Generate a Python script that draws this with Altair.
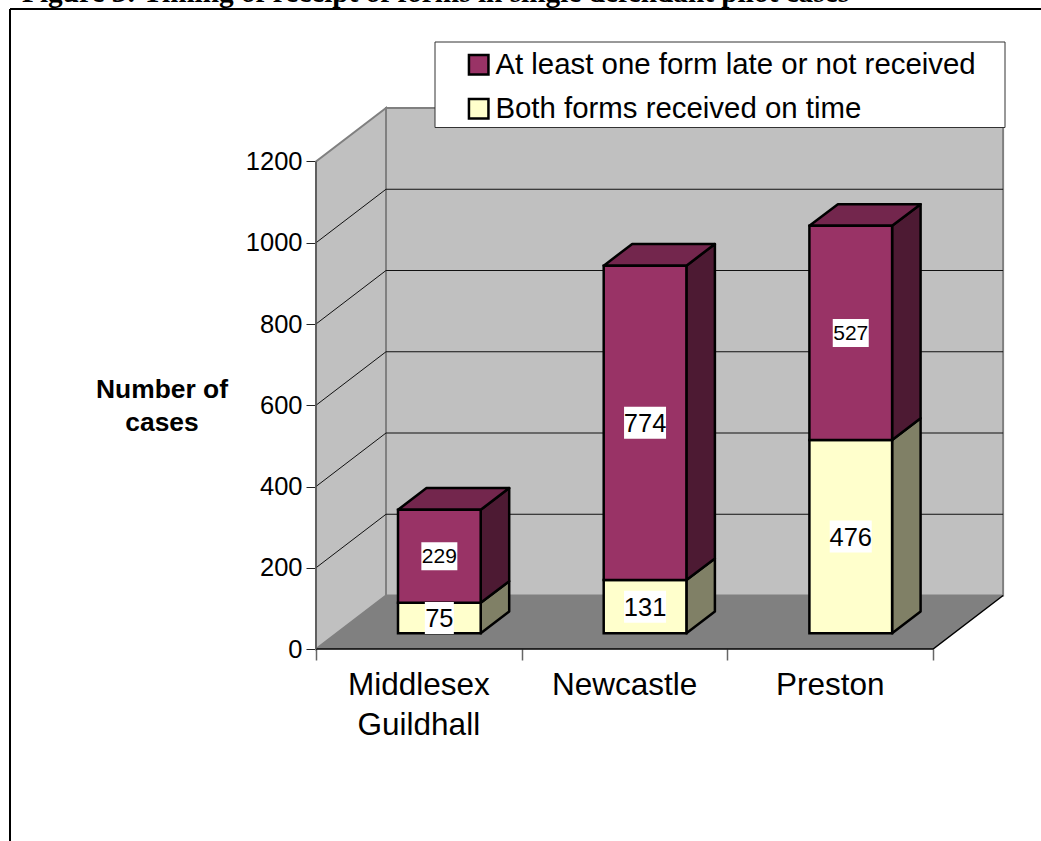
import altair as alt
import pandas as pd

CATEGORIES = ["Middlesex\nGuildhall", "Newcastle", "Preston"]
ON_TIME = [75, 131, 476]
LATE = [229, 774, 527]
Y_TICKS = [0, 200, 400, 600, 800, 1000, 1200]
GRID_VALUES = [200, 400, 600, 800, 1000]
LATE_NAME = "At least one form late or not received"
ON_TIME_NAME = "Both forms received on time"
TITLE = "Figure 3: Timing of receipt of forms in single defendant pilot cases"

W, H = 1041, 841
ORIGIN_X, ORIGIN_Y = 316, 649
PX_PER_CATEGORY = 205.7
PX_PER_CASE = 0.40625
SANS = "Liberation Sans"

# Oblique projection: how depth shifts a point, in category and case units.
WALL_DX, WALL_DY = 70 / PX_PER_CATEGORY, 53.5 / PX_PER_CASE
BAR_DX, BAR_DY = 28.5 / PX_PER_CATEGORY, 21.7 / PX_PER_CASE
INSET_DX, INSET_DY = 20.5 / PX_PER_CATEGORY, 15.7 / PX_PER_CASE
BAR_WIDTH = 0.402

cats = len(CATEGORIES)
top = Y_TICKS[-1]

x_scale = alt.Scale(domain=[-ORIGIN_X / PX_PER_CATEGORY, (W - ORIGIN_X) / PX_PER_CATEGORY],
                    range=[0, W], nice=False, zero=False)
y_scale = alt.Scale(domain=[-(H - ORIGIN_Y) / PX_PER_CASE, ORIGIN_Y / PX_PER_CASE],
                    range=[H, 0], nice=False, zero=False)
x_axis = alt.Axis(values=list(range(cats + 1)), offset=-(H - ORIGIN_Y), domain=False, grid=False,
                  labels=False, tickSize=11, tickColor="#666666", tickWidth=1.5, title=None)
y_axis = alt.Axis(values=Y_TICKS, offset=-ORIGIN_X, domain=False, grid=False, tickSize=10, format="d",
                  tickColor="#222222", tickWidth=1, labelFont=SANS, labelFontSize=25.5,
                  labelColor="black", labelPadding=4, title=None)
X = alt.X("x:Q", scale=x_scale, axis=x_axis)
Y = alt.Y("y:Q", scale=y_scale, axis=y_axis, stack=None)
Y2 = alt.Y2("y2:Q")
X2 = alt.X2("x2:Q")


def band(points, **extra):
    return [dict(x=px, y=lo, y2=hi, **extra) for px, lo, hi in points]


def area_layer(rows, fill, stroke=None, width=0):
    kw = dict(fill=fill, opacity=1)
    if stroke:
        kw.update(stroke=stroke, strokeWidth=width, strokeJoin="miter")
    return alt.Chart(pd.DataFrame(rows)).mark_area(**kw).encode(x=X, y=Y, y2=Y2)


# Chart box: side wall, back wall and floor
side_wall = area_layer(band([(0, 0, top), (WALL_DX, WALL_DY, top + WALL_DY)]), "#c0c0c0", "#808080", 2)
back_wall = area_layer(band([(WALL_DX, WALL_DY, top + WALL_DY), (cats + WALL_DX, WALL_DY, top + WALL_DY)]),
                       "#c0c0c0", "#808080", 2)
floor = area_layer(band([(0, 0, 0), (WALL_DX, 0, WALL_DY), (cats, 0, WALL_DY), (cats + WALL_DX, WALL_DY, WALL_DY)]),
                   "#808080")

grid_rows = []
for v in GRID_VALUES:
    grid_rows += [dict(x=0, y=v, g=v), dict(x=WALL_DX, y=v + WALL_DY, g=v),
                  dict(x=cats + WALL_DX, y=v + WALL_DY, g=v)]
grid = alt.Chart(pd.DataFrame(grid_rows)).mark_line(color="#111111", strokeWidth=1).encode(
    x=X, y=Y, detail="g:N", order=alt.Order("x:Q"))

edge = alt.Chart(pd.DataFrame([dict(x=0, y=0), dict(x=cats, y=0), dict(x=cats + WALL_DX, y=WALL_DY)])).mark_line(
    color="black", strokeWidth=1.5).encode(x=X, y=Y, order=alt.Order("x:Q"))
y_line = alt.Chart(pd.DataFrame([dict(x=0, y=0), dict(x=0, y=top)])).mark_line(
    color="#555555", strokeWidth=1.5).encode(x=X, y=Y)

# Bars: side and top faces as parallelograms, front faces as rectangles
side_rows, top_rows, front_rows, box_rows, label_rows = [], [], [], [], []
for i, (on_time, late) in enumerate(zip(ON_TIME, LATE)):
    x0 = i + 0.5 - BAR_WIDTH / 2 + INSET_DX
    x1 = x0 + BAR_WIDTH
    total = on_time + late
    for name, lo, hi, side_fill in ((ON_TIME_NAME, 0, on_time, "#808066"), (LATE_NAME, on_time, total, "#4d1a33")):
        side_rows += band([(x1, lo + INSET_DY, hi + INSET_DY),
                           (x1 + BAR_DX, lo + INSET_DY + BAR_DY, hi + INSET_DY + BAR_DY)],
                          face=f"{i}{name}", fill=side_fill)
        front_rows.append(dict(x=x0, x2=x1, y=lo + INSET_DY, y2=hi + INSET_DY, series=name))
        value = hi - lo
        small = value in (229, 527)
        half_w = (18 if small else (14.5 if value < 100 else 21)) / PX_PER_CATEGORY
        half_h = (14 if small else 16) / PX_PER_CASE
        mid = (lo + hi) / 2 + INSET_DY
        cx = (x0 + x1) / 2
        box_rows.append(dict(x=cx - half_w, x2=cx + half_w, y=mid - half_h, y2=mid + half_h))
        label_rows.append(dict(x=cx, y=mid, text=str(value), size=21 if small else 25.5))
    t = total + INSET_DY
    top_rows += band([(x0, t, t), (x0 + BAR_DX, t, t + BAR_DY), (x1, t, t + BAR_DY),
                      (x1 + BAR_DX, t + BAR_DY, t + BAR_DY)], face=f"top{i}", fill="#73264d")

side_faces = alt.Chart(pd.DataFrame(side_rows + top_rows)).mark_area(
    stroke="black", strokeWidth=2.5, opacity=1, strokeJoin="round"
).encode(x=X, y=Y, y2=Y2, detail="face:N", fill=alt.Fill("fill:N", scale=None))

front_faces = alt.Chart(pd.DataFrame(front_rows)).mark_rect(stroke="black", strokeWidth=2.5, opacity=1).encode(
    x=X, x2=X2, y=Y, y2=Y2,
    fill=alt.Fill("series:N",
                  scale=alt.Scale(domain=[LATE_NAME, ON_TIME_NAME], range=["#993366", "#ffffcc"]),
                  legend=alt.Legend(orient="none", legendX=464, legendY=50, title=None, padding=0,
                                    symbolType="square", symbolSize=380, symbolStrokeWidth=2.5,
                                    symbolStrokeColor="black", symbolOpacity=1, labelFont=SANS,
                                    labelFontSize=29.4, labelColor="black", labelLimit=600, labelOffset=2,
                                    rowPadding=13, zindex=2)),
)

label_boxes = alt.Chart(pd.DataFrame(box_rows)).mark_rect(fill="white", opacity=1).encode(x=X, x2=X2, y=Y, y2=Y2)
value_labels = alt.Chart(pd.DataFrame(label_rows)).mark_text(font=SANS, color="black", align="center",
                                                             baseline="middle", dy=1).encode(
    x=X, y=Y, text="text:N", size=alt.Size("size:Q", scale=None))

category_labels = alt.Chart(pd.DataFrame({"x": [i + 0.5 for i in range(cats)], "y": [-52] * cats,
                                          "text": CATEGORIES})).mark_text(
    font=SANS, fontSize=31.5, color="black", align="center", baseline="top", lineBreak="\n", lineHeight=40
).encode(x=X, y=Y, text="text:N")

legend_box = alt.Chart(pd.DataFrame({"a": [0]})).mark_rect(fill="white", stroke="#333333", strokeWidth=1).encode(
    x=alt.value(435), x2=alt.value(1005), y=alt.value(42), y2=alt.value(127.5))

axis_title = alt.Chart(pd.DataFrame({"text": ["Number of\ncases"]})).mark_text(
    font=SANS, fontSize=26.4, fontWeight="bold", color="black", align="center", baseline="middle",
    lineBreak="\n", lineHeight=33
).encode(x=alt.value(162), y=alt.value(390), text="text:N")

title = alt.Chart(pd.DataFrame({"text": [TITLE]})).mark_text(
    font="Liberation Serif", fontSize=29.3, fontWeight="bold", color="black", align="left", baseline="alphabetic"
).encode(x=alt.value(22), y=alt.value(2), text="text:N")

frame_left = alt.Chart(pd.DataFrame({"a": [0]})).mark_rule(color="black", strokeWidth=2).encode(
    x=alt.value(10), y=alt.value(9), y2=alt.value(H))
frame_top = alt.Chart(pd.DataFrame({"a": [0]})).mark_rule(color="black", strokeWidth=2).encode(
    y=alt.value(9), x=alt.value(10), x2=alt.value(W))

chart = alt.layer(
    side_wall, back_wall, floor, grid, edge, y_line,
    side_faces, front_faces, label_boxes, value_labels, category_labels,
    legend_box, axis_title, title, frame_left, frame_top,
).properties(
    width=W, height=H, padding=0, autosize=alt.AutoSizeParams(type="none"), background="white"
).configure_view(stroke=None)

chart.save("out.html", embed_options={"renderer": "svg", "actions": False})
